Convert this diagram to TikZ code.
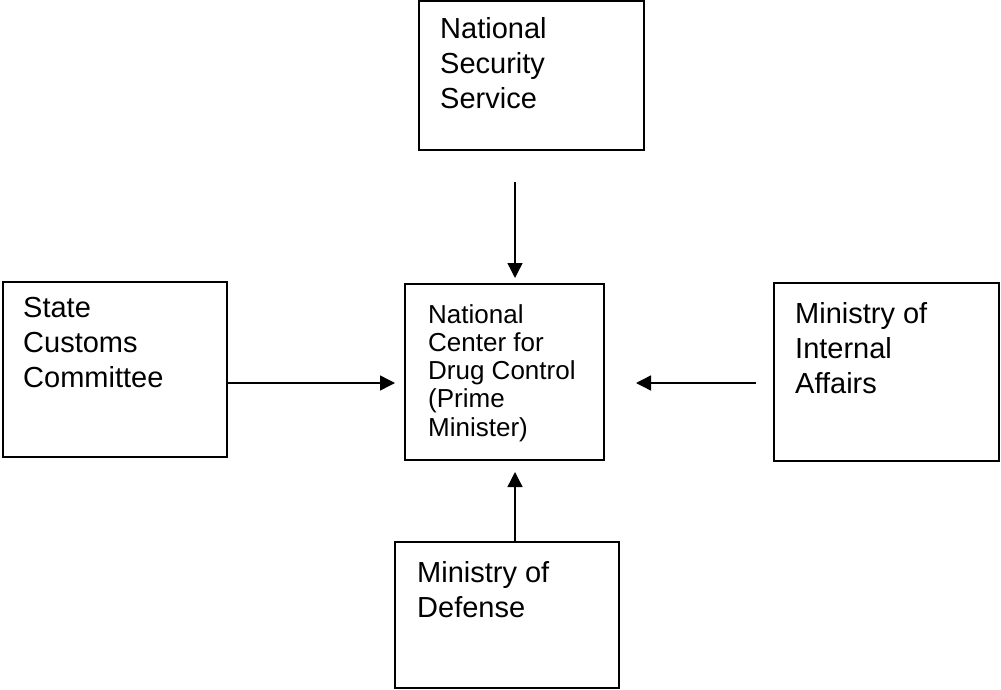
\documentclass[tikz,border=0pt]{standalone}
\usepackage{fontspec}
\setmainfont{Liberation Sans}
\usetikzlibrary{arrows.meta,calc}
\begin{document}
\begin{tikzpicture}[x=1pt,y=-1pt,
  box/.style={draw=black, line width=1.8pt, rectangle, inner sep=0pt},
  txt/.style={anchor=north west, inner sep=0pt, align=left, font=\fontsize{29}{35}\selectfont},
  smalltxt/.style={anchor=north west, inner sep=0pt, align=left, font=\fontsize{26}{28.3}\selectfont},
  arr/.style={line width=1.4pt, -{Triangle[length=15pt,width=15pt]}}]
\useasboundingbox (0,0) rectangle (1001,690);
% boxes
\node[box, minimum width=225pt, minimum height=149pt] (nss) at (531.5,75.5) {};
\node[box, minimum width=224pt, minimum height=175pt] (scc) at (115,369.5) {};
\node[box, minimum width=199pt, minimum height=176pt] (ctr) at (504.5,372) {};
\node[box, minimum width=225pt, minimum height=178pt] (mia) at (886.5,372) {};
\node[box, minimum width=224pt, minimum height=146pt] (mod) at (507,615) {};
% texts
\node[txt] (nsst) at (440,17) {National\\Security\\Service};
\node[txt] (scct) at (23,297) {State\\Customs\\Committee};
\node[txt] (miat) at (795,302) {Ministry of\\Internal\\Affairs};
\node[txt] (modt) at (417,561) {Ministry of\\Defense};
\node[smalltxt] (ctrt) at (428,304) {National\\Center for\\Drug Control\\(Prime\\Minister)};
% connector ends
\coordinate (topA) at (515,182);
\coordinate (topB) at (515,278);
\coordinate (leftB) at (395,383);
\coordinate (rightA) at (756,383);
\coordinate (rightB) at (636,383);
\coordinate (botB) at (515,472);
% arrows
\draw[arr] (topA) -- (topB);
\draw[arr] (scc.east |- leftB) -- (leftB);
\draw[arr] (rightA) -- (rightB);
\draw[arr] (mod.north -| botB) -- (botB);
\end{tikzpicture}
\end{document}
